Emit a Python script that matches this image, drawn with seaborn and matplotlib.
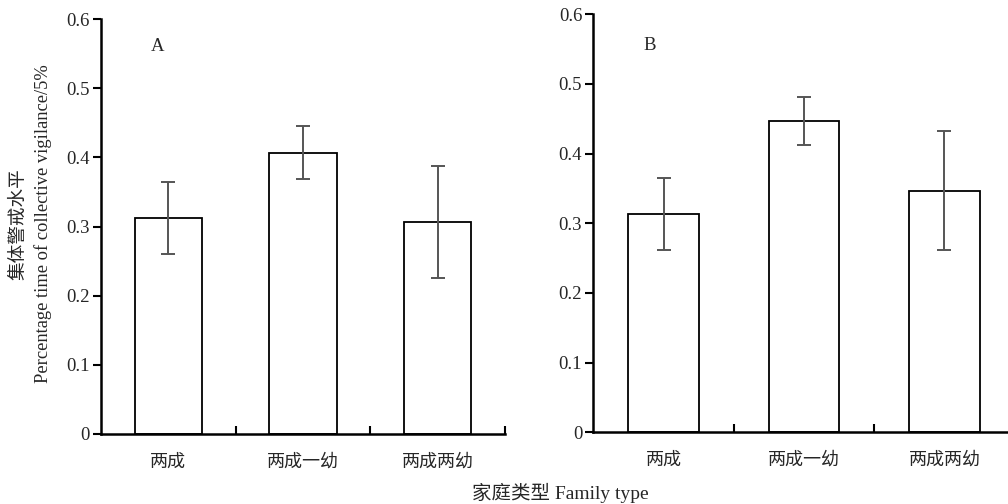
import numpy as np
import pandas as pd
import matplotlib
matplotlib.use("Agg")
import matplotlib.pyplot as plt
import seaborn as sns

# data
family_types = ['两成', '两成一幼', '两成两幼']
mean_a = [0.313, 0.407, 0.307]
upper_a = [0.364, 0.445, 0.388]
lower_a = [0.261, 0.369, 0.225]
mean_b = [0.314, 0.447, 0.347]
upper_b = [0.365, 0.482, 0.433]
lower_b = [0.262, 0.412, 0.262]
y_ticks = [0, 0.1, 0.2, 0.3, 0.4, 0.5, 0.6]
y_tick_labels = ['0', '0.1', '0.2', '0.3', '0.4', '0.5', '0.6']

sns.set_style('white')
plt.rcParams['font.family'] = ['Liberation Serif', 'Noto Sans CJK SC']
plt.rcParams['axes.unicode_minus'] = False

fig = plt.figure(figsize=(10.08, 5.04), dpi=100)
ax_a = fig.add_axes([0.1002, 0.139, 0.4008, 0.823])
ax_b = fig.add_axes([0.5886, 0.1423, 0.418, 0.8293])


def draw_panel(ax, means, upper, lower, label, label_xy):
    df = pd.DataFrame({'type': family_types, 'value': means})
    sns.barplot(data=df, x='type', y='value', ax=ax, color='white',
                edgecolor='black', linewidth=1.3, width=0.5, errorbar=None,
                saturation=1)
    m = np.array(means)
    yerr = np.vstack([m - np.array(lower), np.array(upper) - m])
    ax.errorbar(np.arange(len(means)), m, yerr=yerr, fmt='none',
                ecolor='#555555', elinewidth=1.4, capsize=5, capthick=1.4)
    ax.set_xlim(-0.5, 2.5)
    ax.set_ylim(0, 0.6)
    ax.set_yticks(y_ticks)
    ax.set_yticklabels(y_tick_labels, fontsize=13.5)
    ax.set_xticks(range(len(family_types)))
    ax.set_xticklabels(family_types, fontsize=13)
    ax.set_xticks([0.5, 1.5, 2.5], minor=True)
    ax.tick_params(axis='x', which='major', length=0, pad=14, bottom=False)
    ax.tick_params(axis='x', which='minor', direction='in', length=6,
                   width=1.5, color='black', bottom=True)
    ax.tick_params(axis='y', direction='out', length=6, width=1.5,
                   color='black', left=True, labelsize=13.5, pad=2)
    for side in ['top', 'right']:
        ax.spines[side].set_visible(False)
    for side in ['left', 'bottom']:
        ax.spines[side].set_color('black')
        ax.spines[side].set_linewidth(1.8)
    ax.set_xlabel('')
    ax.set_ylabel('')
    ax.text(label_xy[0], label_xy[1], label, transform=ax.transAxes,
            fontsize=13.5, ha='center', va='center')


draw_panel(ax_a, mean_a, upper_a, lower_a, 'A', (0.139, 0.933))
draw_panel(ax_b, mean_b, upper_b, lower_b, 'B', (0.134, 0.926))

fig.text(0.019, 0.556, '集体警戒水平', rotation=90, ha='center', va='center',
         fontsize=13.4)
fig.text(0.043, 0.556, 'Percentage time of collective vigilance/5%',
         rotation=90, ha='center', va='center', fontsize=13.3)
fig.text(0.556, 0.022, '家庭类型 Family type', ha='center', va='center',
         fontsize=14)

fig.savefig('out.png', dpi=100)
